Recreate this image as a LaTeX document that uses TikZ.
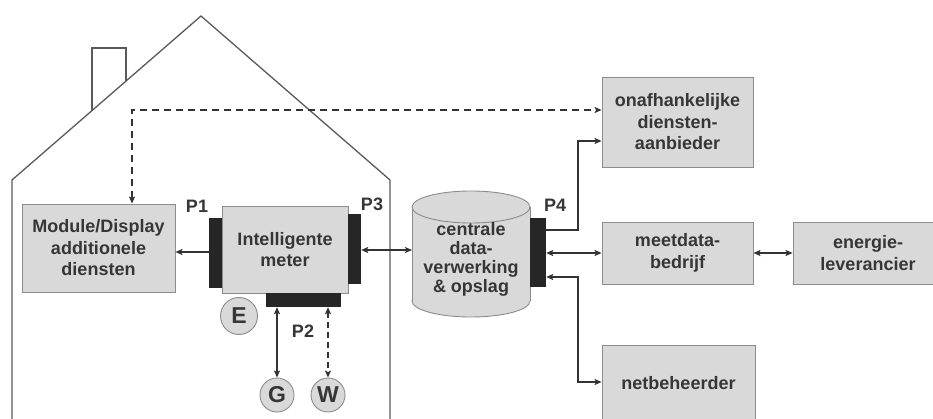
\documentclass[tikz,border=0pt]{standalone}
\usepackage{fontspec}
\setmainfont{Liberation Sans}
\usetikzlibrary{arrows.meta}
\definecolor{boxfill}{HTML}{D9D9D9}
\definecolor{boxline}{HTML}{8C8C8C}
\definecolor{txt}{HTML}{363636}
\definecolor{portclr}{HTML}{262626}
\definecolor{houseclr}{HTML}{5A5A5A}
\definecolor{connclr}{HTML}{333333}
\begin{document}
\begin{tikzpicture}[x=1pt,y=-1pt,
  >={Stealth[length=7pt,width=6pt,inset=1.5pt]},
  box/.style={draw=boxline,fill=boxfill,line width=0.9pt,inner sep=0pt,align=center,text=txt,
    font=\bfseries\fontsize{18}{21.5}\selectfont},
  portbar/.style={fill=portclr,inner sep=0pt},
  plabel/.style={text=txt,font=\bfseries\fontsize{18}{21.5}\selectfont,inner sep=0pt},
  utility/.style={circle,draw=boxline,fill=boxfill,line width=0.9pt,minimum size=37pt,inner sep=0pt,
    text=txt,font=\bfseries\fontsize{23}{23}\selectfont},
  conn/.style={draw=connclr,line width=1.4pt},
  houseline/.style={draw=houseclr,line width=1.3pt,line join=miter}
]
\useasboundingbox (0,0) rectangle (933,419);
\fill[white] (0,0) rectangle (933,419);
\clip (0,0) rectangle (933,419);

% house
\draw[houseline] (12,430) -- (12,180) -- (201,16) -- (390,180) -- (390,430);
\draw[houseline] (92,110.6) -- (92,48) -- (126,48) -- (126,81.1);

% boxes in house
\node[box,minimum width=153pt,minimum height=88pt] (mod) at (98.5,248) {Module/Display\\additionele\\diensten};
\node[box,minimum width=126pt,minimum height=87pt] (meter) at (285,249.5) {Intelligente\\meter};
\node[portbar,minimum width=13pt,minimum height=70pt] (p1) at (215.5,253) {};
\node[portbar,minimum width=13pt,minimum height=70pt] (p3) at (354.5,249) {};
\node[portbar,minimum width=75pt,minimum height=14pt] (p2) at (303.5,300) {};
\node[plabel] (p1l) at (197,206) {P1};
\node[plabel] (p3l) at (372,204) {P3};
\node[plabel] (p2l) at (303,331) {P2};
\node[utility] (E) at (239,316) {E};
\node[utility,minimum size=34pt] (G) at (277,395) {G};
\node[utility,minimum size=34pt] (W) at (328,395) {W};

% database cylinder
\filldraw[draw=boxline,fill=boxfill,line width=0.9pt] (471,301) ellipse [x radius=59,y radius=16];
\fill[boxfill] (412,207) rectangle (530,301);
\draw[boxline,line width=0.9pt] (412,207) -- (412,301) (530,207) -- (530,301);
\filldraw[draw=boxline,fill=boxfill,line width=0.9pt] (471,207) ellipse [x radius=59,y radius=16];
\node[align=center,text=txt,font=\bfseries\fontsize{18}{19.2}\selectfont,inner sep=0pt] (db) at (471,259.5) {centrale\\data-\\verwerking\\\& opslag};
\coordinate (dbw) at (412,250);
\node[portbar,minimum width=16pt,minimum height=69pt] (p4) at (538,252.5) {};
\node[plabel] (p4l) at (555,205) {P4};

% right boxes
\node[box,minimum width=151pt,minimum height=90pt] (onaf) at (677.5,122) {onafhankelijke\\diensten-\\aanbieder};
\node[box,minimum width=151pt,minimum height=62pt] (meet) at (677.5,253) {meetdata-\\bedrijf};
\node[box,minimum width=150pt,minimum height=62pt] (ener) at (868,253) {energie-\\leverancier};
\node[box,minimum width=153pt,minimum height=76pt] (net) at (678.5,383) {netbeheerder};

% connectors
\coordinate (dA) at (132,110);
\draw[conn,<->,dash pattern=on 7pt off 5pt] (mod.north -| dA) -- (dA) -- (dA -| onaf.west);
\draw[conn,->] (p1.west |- 0,252) -- (mod.east |- 0,252);
\draw[conn,<->] (p3.east |- 0,250) -- (dbw);
\draw[conn,<->] (p2.south -| G) -- (G.north);
\draw[conn,<->,dash pattern=on 6pt off 4pt] (p2.south -| W) -- (W.north);
\coordinate (r1) at (578,230);
\coordinate (r2) at (578,141);
\draw[conn,->,line width=2.4pt,line join=miter] (p4.east |- r1) -- (r1) -- (r2) -- (r2 -| onaf.west);
\draw[conn,<->] (p4.east |- 0,253) -- (meet.west |- 0,253);
\coordinate (r3) at (578,277);
\coordinate (r4) at (578,382);
\draw[conn,<->] (p4.east |- r3) -- (r3) -- (r4) -- (r4 -| net.west);
\draw[conn,<->] (meet.east) -- (ener.west);
\end{tikzpicture}
\end{document}
